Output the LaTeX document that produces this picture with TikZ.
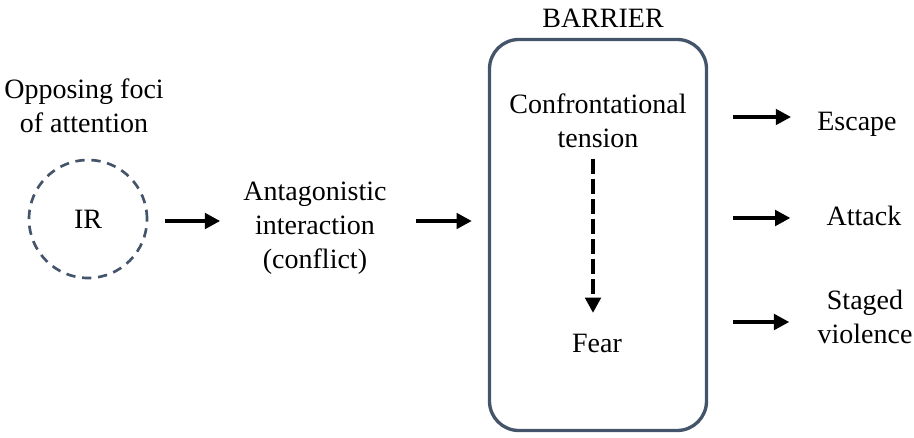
\documentclass[tikz,border=0pt]{standalone}
\usepackage{fontspec}
\setmainfont{Liberation Serif}
\usetikzlibrary{arrows.meta}
\definecolor{slate}{HTML}{44546A}
\begin{document}
\begin{tikzpicture}[x=0.75pt,y=-0.75pt,
  txt/.style={font=\fontsize{21pt}{25.5pt}\selectfont, align=center, inner sep=0pt},
  arr/.style={line width=3.2pt, -{Triangle[length=11.5pt,width=11.5pt]}},
  darr/.style={line width=3.4pt, dash pattern=on 11.25pt off 3.75pt, -{Triangle[length=11.5pt,width=11.5pt]}},
  ring/.style={draw=slate, line width=2pt, dash pattern=on 7pt off 5pt, circle, minimum size=88.5pt, inner sep=0pt},
  barrierbox/.style={draw=slate, line width=2.5pt, rounded corners=22pt, minimum width=162.75pt, minimum height=293.25pt}]
\useasboundingbox (0,0) rectangle (914,438);

\node[txt] (opp) at (84,105.5) {Opposing foci\\of attention};
\node[ring, font=\fontsize{21pt}{25.5pt}\selectfont] (ir) at (88,219) {IR};
\node[txt] (ant) at (315,228) {Antagonistic\\interaction\\(conflict)};
\node[barrierbox] (box) at (598,235) {};
\node[txt] (bar) at (603,18) {BARRIER};
\node[txt] (conf) at (598,120.5) {Confrontational\\tension};
\node[txt] (fear) at (597,343) {Fear};
\node[txt] (esc) at (857,124) {Escape};
\node[txt] (att) at (864,215.5) {Attack};
\node[txt] (stg) at (865,316.5) {Staged\\violence};

\draw[arr] ([shift={(17,2)}]ir.east) -- ([shift={(-23,-7)}]ant.west);
\draw[arr] ([shift={(29,-7)}]ant.east) -- ([shift={(-16,-14)}]box.west);
\draw[darr] ([shift={(-5,11)}]conf.south) -- ([shift={(-4,-20.5)}]fear.north);
\draw[arr] ([shift={(25,-118)}]box.east) -- ([shift={(-26,-7)}]esc.west);
\draw[arr] ([shift={(25,-17)}]box.east) -- ([shift={(-36,2.5)}]att.west);
\draw[arr] ([shift={(25,87)}]box.east) -- ([shift={(-28,5.5)}]stg.west);
\end{tikzpicture}
\end{document}
